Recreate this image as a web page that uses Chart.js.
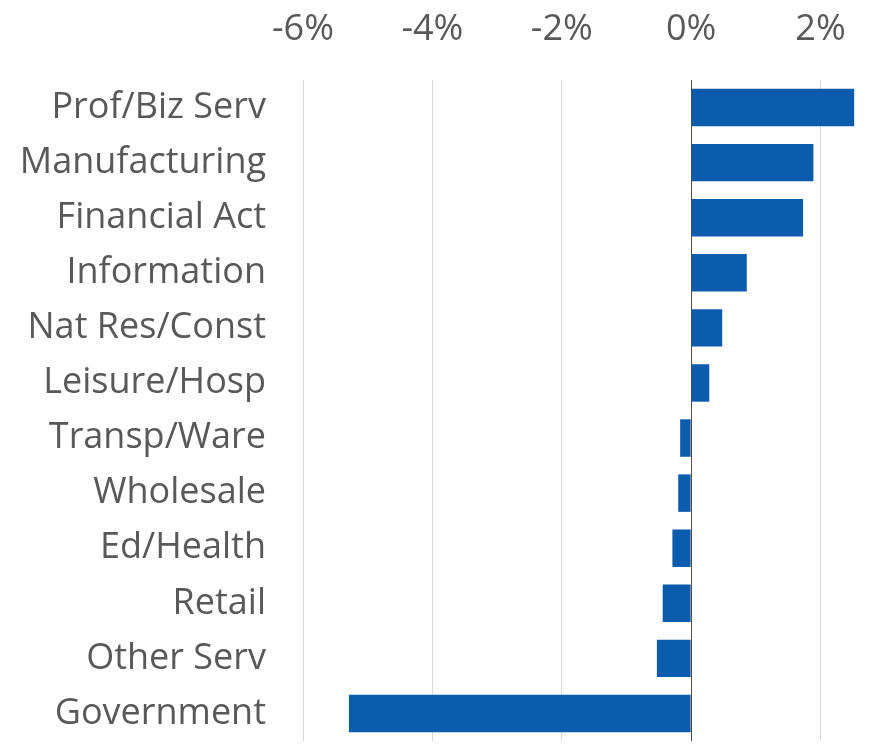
<!DOCTYPE html>
<html>
<head>
<meta charset="utf-8">
<script src="https://cdn.jsdelivr.net/npm/chart.js@4.4.1/dist/chart.umd.min.js"></script>
<style>
  html, body { margin: 0; padding: 0; background: #fff; overflow: hidden; }
  canvas { display: block; }
</style>
</head>
<body>
<canvas id="sectorChart" width="882" height="744"></canvas>
<script>
// job growth by sector, percent
var sectors = [
    "Prof/Biz Serv",
    "Manufacturing",
    "Financial Act",
    "Information",
    "Nat Res/Const",
    "Leisure/Hosp",
    "Transp/Ware",
    "Wholesale",
    "Ed/Health",
    "Retail",
    "Other Serv",
    "Government"
];
var growth = [2.52, 1.89, 1.73, 0.86, 0.48, 0.28, -0.17, -0.2, -0.29, -0.44, -0.53, -5.29];
var xTicks = [-6, -4, -2, 0, 2];

var labelFont = { family: "'Open Sans', sans-serif", size: 36, lineHeight: 1 };

new Chart(document.getElementById("sectorChart"), {
    type: 'bar',
    data: {
        labels: sectors,
        datasets: [{
            data: growth,
            backgroundColor: "#0b5cad",
            categoryPercentage: 1,
            barPercentage: 0.68
        }]
    },
    options: {
        indexAxis: 'y',
        responsive: false,
        animation: false,
        layout: { padding: { left: 0, right: 0, top: 6, bottom: 3 } },
        plugins: {
            legend: { display: false },
            tooltip: { enabled: false }
        },
        scales: {
            x: {
                position: 'top',
                min: -6,
                max: 2.95,
                afterBuildTicks: function (axis) {
                    axis.ticks = xTicks.map(function (v) { return { value: v }; });
                },
                afterFit: function (axis) {
                    axis.height = 74;
                },
                border: { display: false },
                grid: {
                    drawTicks: false,
                    lineWidth: 1,
                    color: function (ctx) {
                        return ctx.tick && ctx.tick.value === 0 ? "#5a4a44" : "#d9d9d9";
                    }
                },
                ticks: {
                    padding: 32,
                    color: "#595959",
                    font: labelFont,
                    maxRotation: 0,
                    callback: function (v) { return v + "%"; }
                }
            },
            y: {
                // fixed label column; tick padding would otherwise also pad the plot top and bottom
                afterFit: function (axis) {
                    axis.width = 303;
                    axis.paddingTop = 0;
                    axis.paddingBottom = 0;
                },
                border: { display: false },
                grid: { display: false, drawTicks: false },
                ticks: {
                    padding: 37,
                    color: "#595959",
                    font: labelFont,
                    autoSkip: false
                }
            }
        }
    }
});
</script>
</body>
</html>
